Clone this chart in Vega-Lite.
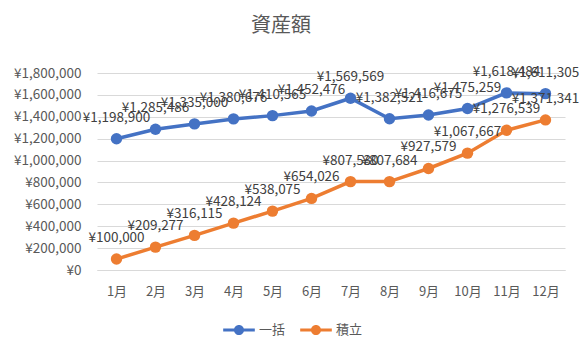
{
  "$schema": "https://vega.github.io/schema/vega-lite/v6.json",
  "autosize": "none",
  "width": 468,
  "height": 197,
  "padding": {"left": 97, "top": 73, "right": 21, "bottom": 82},
  "background": "white",
  "config": {
    "font": "Noto Sans CJK JP",
    "view": {"stroke": null},
    "locale": {
      "number": {"decimal": ".", "thousands": ",", "grouping": [3], "currency": ["¥", ""]}
    }
  },
  "title": {
    "text": "資産額",
    "fontSize": 20,
    "fontWeight": "normal",
    "color": "#595959",
    "anchor": "middle",
    "dx": -50,
    "offset": 29
  },
  "data": {
    "values": [
      {"m": "1月", "s": "一括", "v": 1198900},
      {"m": "2月", "s": "一括", "v": 1285486},
      {"m": "3月", "s": "一括", "v": 1335000},
      {"m": "4月", "s": "一括", "v": 1380676},
      {"m": "5月", "s": "一括", "v": 1410565},
      {"m": "6月", "s": "一括", "v": 1452476},
      {"m": "7月", "s": "一括", "v": 1569569},
      {"m": "8月", "s": "一括", "v": 1382521},
      {"m": "9月", "s": "一括", "v": 1416675},
      {"m": "10月", "s": "一括", "v": 1475259},
      {"m": "11月", "s": "一括", "v": 1618484},
      {"m": "12月", "s": "一括", "v": 1611305},
      {"m": "1月", "s": "積立", "v": 100000},
      {"m": "2月", "s": "積立", "v": 209277},
      {"m": "3月", "s": "積立", "v": 316115},
      {"m": "4月", "s": "積立", "v": 428124},
      {"m": "5月", "s": "積立", "v": 538075},
      {"m": "6月", "s": "積立", "v": 654026},
      {"m": "7月", "s": "積立", "v": 807530},
      {"m": "8月", "s": "積立", "v": 807684},
      {"m": "9月", "s": "積立", "v": 927579},
      {"m": "10月", "s": "積立", "v": 1067667},
      {"m": "11月", "s": "積立", "v": 1276539},
      {"m": "12月", "s": "積立", "v": 1371341}
    ]
  },
  "encoding": {
    "x": {
      "field": "m",
      "type": "ordinal",
      "sort": null,
      "scale": {"paddingInner": 0, "paddingOuter": 0},
      "axis": {
        "title": null,
        "labelAngle": 0,
        "ticks": false,
        "domainColor": "#D9D9D9",
        "labelColor": "#595959",
        "labelFontSize": 13,
        "labelPadding": 15,
        "grid": false
      }
    },
    "y": {
      "field": "v",
      "type": "quantitative",
      "scale": {"domain": [0, 1800000]},
      "axis": {
        "title": null,
        "values": [0, 200000, 400000, 600000, 800000, 1000000, 1200000, 1400000, 1600000, 1800000],
        "format": "$,.0f",
        "ticks": false,
        "domain": false,
        "gridColor": "#D9D9D9",
        "labelColor": "#595959",
        "labelFontSize": 13.5,
        "labelPadding": 16
      }
    },
    "color": {
      "field": "s",
      "type": "nominal",
      "scale": {"domain": ["一括", "積立"], "range": ["#4472C4", "#ED7D31"]},
      "legend": {
        "title": null,
        "orient": "none",
        "direction": "horizontal",
        "legendX": 126,
        "legendY": 241,
        "symbolType": "M-1,-0.1H1V0.1H-1Z M-0.32,0A0.32,0.32 0 1,1 0.32,0A0.32,0.32 0 1,1 -0.32,0Z",
        "symbolSize": 1000,
        "symbolStrokeWidth": 0,
        "labelFontSize": 13,
        "labelColor": "#595959",
        "columnPadding": 14
      }
    }
  },
  "layer": [
    {
      "mark": {"type": "line", "strokeWidth": 3.5, "point": {"filled": true, "size": 130}}
    },
    {
      "mark": {"type": "text", "dy": -21, "fontSize": 13.5, "color": "#404040"},
      "encoding": {
        "text": {"field": "v", "type": "quantitative", "format": "$,.0f"},
        "color": {"value": "#404040"}
      }
    }
  ]
}
